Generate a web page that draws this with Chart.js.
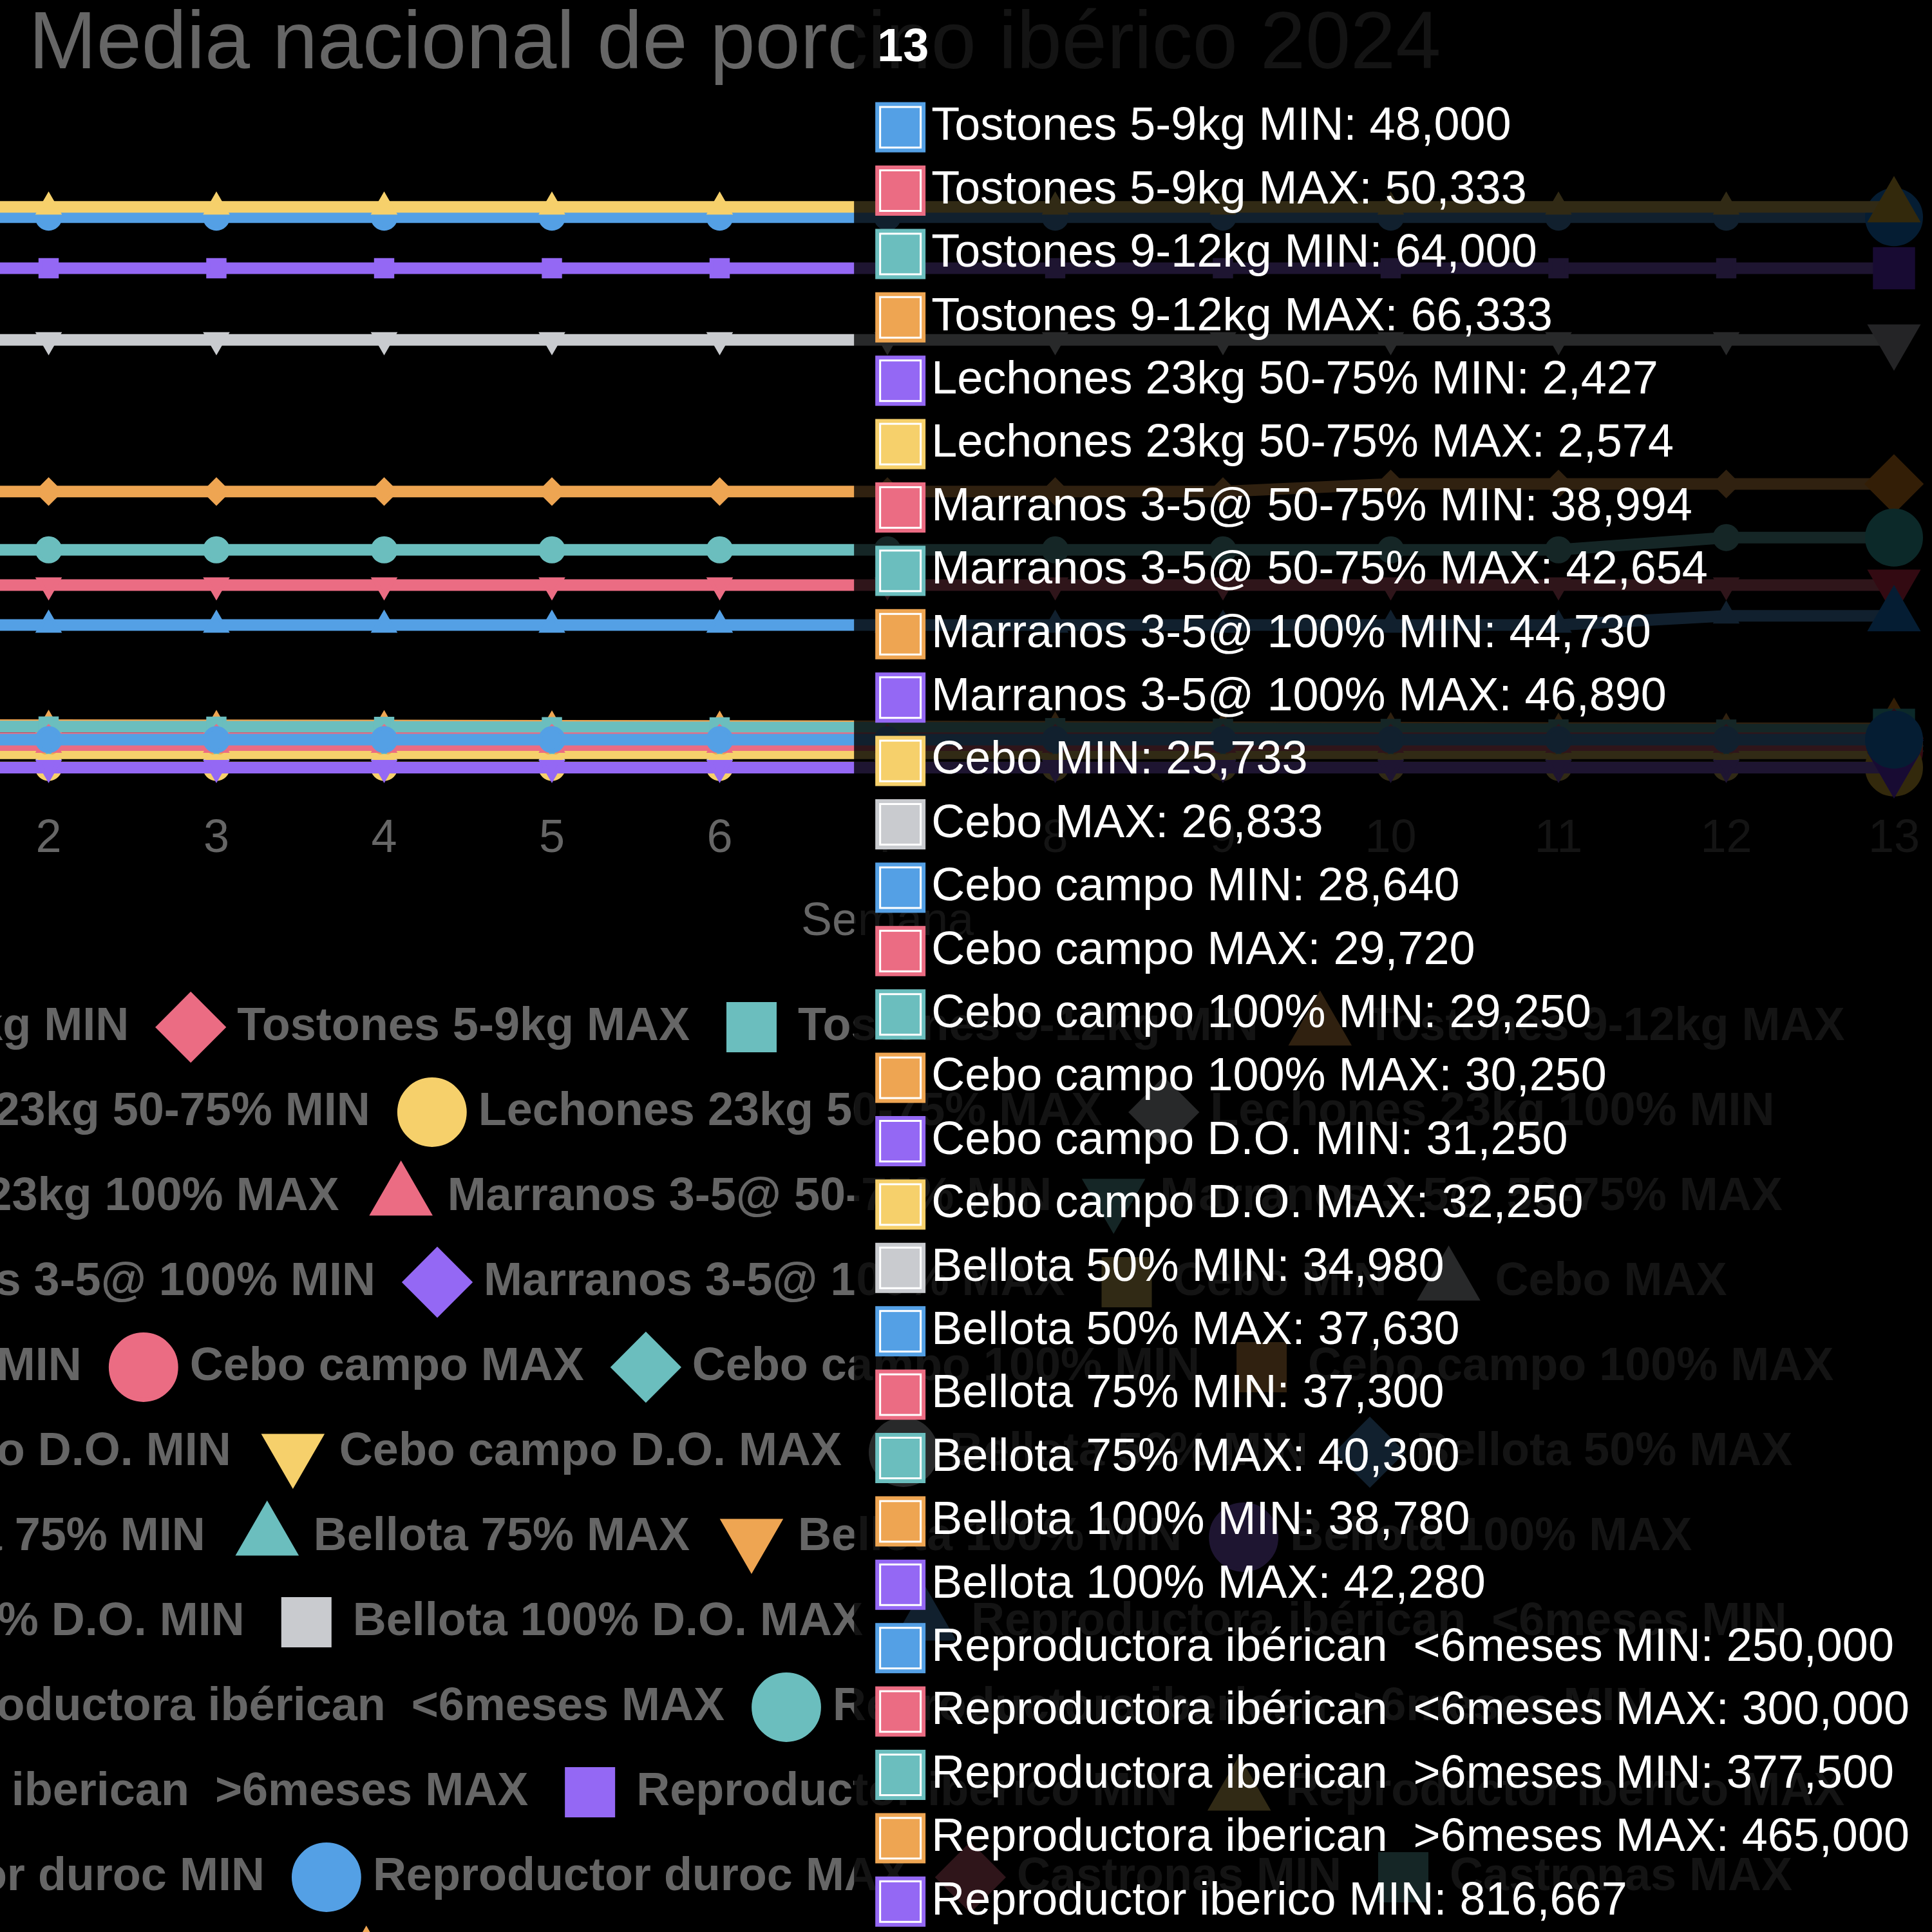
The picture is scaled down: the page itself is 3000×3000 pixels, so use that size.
<!DOCTYPE html>
<html>
<head>
<meta charset="utf-8">
<script src="https://cdn.jsdelivr.net/npm/chart.js"></script>
<style>
  body { margin: 0; background: #000; overflow: hidden; }
</style>
</head>
<body>
<canvas id="myChart" width="610" height="501" style="position:absolute;left:-659px;top:-4px;width:3660px;height:3006px"></canvas>
<script>
const semanas = ['1', '2', '3', '4', '5', '6', '7', '8', '9', '10', '11', '12', '13'];

const nombres = [
    'Tostones 5-9kg MIN', 'Tostones 5-9kg MAX', 'Tostones 9-12kg MIN', 'Tostones 9-12kg MAX',
    'Lechones 23kg 50-75% MIN', 'Lechones 23kg 50-75% MAX', 'Lechones 23kg 100% MIN', 'Lechones 23kg 100% MAX',
    'Marranos 3-5@ 50-75% MIN', 'Marranos 3-5@ 50-75% MAX', 'Marranos 3-5@ 100% MIN', 'Marranos 3-5@ 100% MAX',
    'Cebo MIN', 'Cebo MAX', 'Cebo campo MIN', 'Cebo campo MAX',
    'Cebo campo 100% MIN', 'Cebo campo 100% MAX', 'Cebo campo D.O. MIN', 'Cebo campo D.O. MAX',
    'Bellota 50% MIN', 'Bellota 50% MAX', 'Bellota 75% MIN', 'Bellota 75% MAX',
    'Bellota 100% MIN', 'Bellota 100% MAX', 'Bellota 100% D.O. MIN', 'Bellota 100% D.O. MAX',
    'Reproductora ibérican  <6meses MIN', 'Reproductora ibérican  <6meses MAX',
    'Reproductora iberican  >6meses MIN', 'Reproductora iberican  >6meses MAX',
    'Reproductor iberico MIN', 'Reproductor iberico MAX', 'Reproductor duroc MIN', 'Reproductor duroc MAX',
    'Castronas MIN', 'Castronas MAX', 'Verracos MIN', 'Verracos MAX'
];

const tostones59Min = [48000, 48000, 48000, 48000, 48000, 48000, 48000, 48000, 48000, 48000, 48000, 48000, 48000];
const tostones59Max = [50333, 50333, 50333, 50333, 50333, 50333, 50333, 50333, 50333, 50333, 50333, 50333, 50333];
const tostones912Min = [69667, 69333, 69000, 68667, 68333, 68000, 67333, 66667, 66000, 65333, 64667, 64333, 64000];
const tostones912Max = [72000, 71667, 71333, 71000, 70667, 70333, 69667, 69000, 68333, 67667, 67000, 66667, 66333];
const lechones5075Min = [2427, 2427, 2427, 2427, 2427, 2427, 2427, 2427, 2427, 2427, 2427, 2427, 2427];
const lechones5075Max = [2574, 2574, 2574, 2574, 2574, 2574, 2574, 2574, 2574, 2574, 2574, 2574, 2574];
const lechones100Min = [null, null, null, null, null, null, null, null, null, null, null, null, null];
const lechones100Max = [null, null, null, null, null, null, null, null, null, null, null, null, null];
const marranos5075Min = [38994, 38994, 38994, 38994, 38994, 38994, 38994, 38994, 38994, 38994, 38994, 38994, 38994];
const marranos5075Max = [42654, 42654, 42654, 42654, 42654, 42654, 42654, 42654, 42654, 42654, 42654, 42654, 42654];
const marranos100Min = [44730, 44730, 44730, 44730, 44730, 44730, 44730, 44730, 44730, 44730, 44730, 44730, 44730];
const marranos100Max = [46890, 46890, 46890, 46890, 46890, 46890, 46890, 46890, 46890, 46890, 46890, 46890, 46890];
const ceboMin = [25733, 25733, 25733, 25733, 25733, 25733, 25733, 25733, 25733, 25733, 25733, 25733, 25733];
const ceboMax = [26833, 26833, 26833, 26833, 26833, 26833, 26833, 26833, 26833, 26833, 26833, 26833, 26833];
const ceboCampoMin = [28640, 28640, 28640, 28640, 28640, 28640, 28640, 28640, 28640, 28640, 28640, 28640, 28640];
const ceboCampoMax = [29720, 29720, 29720, 29720, 29720, 29720, 29720, 29720, 29720, 29720, 29720, 29720, 29720];
const ceboCampo100Min = [29250, 29250, 29250, 29250, 29250, 29250, 29250, 29250, 29250, 29250, 29250, 29250, 29250];
const ceboCampo100Max = [30250, 30250, 30250, 30250, 30250, 30250, 30250, 30250, 30250, 30250, 30250, 30250, 30250];
const ceboCampoDOMin = [31250, 31250, 31250, 31250, 31250, 31250, 31250, 31250, 31250, 31250, 31250, 31250, 31250];
const ceboCampoDOMax = [32250, 32250, 32250, 32250, 32250, 32250, 32250, 32250, 32250, 32250, 32250, 32250, 32250];
const bellota50Min = [34980, 34980, 34980, 34980, 34980, 34980, 34980, 34980, 34980, 34980, 34980, 34980, 34980];
const bellota50Max = [37630, 37630, 37630, 37630, 37630, 37630, 37630, 37630, 37630, 37630, 37630, 37630, 37630];
const bellota75Min = [37300, 37300, 37300, 37300, 37300, 37300, 37300, 37300, 37300, 37300, 37300, 37300, 37300];
const bellota75Max = [40300, 40300, 40300, 40300, 40300, 40300, 40300, 40300, 40300, 40300, 40300, 40300, 40300];
const bellota100Min = [38780, 38780, 38780, 38780, 38780, 38780, 38780, 38780, 38780, 38780, 38780, 38780, 38780];
const bellota100Max = [42280, 42280, 42280, 42280, 42280, 42280, 42280, 42280, 42280, 42280, 42280, 42280, 42280];
const bellota100DOMin = [null, null, null, null, null, null, null, null, null, null, null, null, null];
const bellota100DOMax = [null, null, null, null, null, null, null, null, null, null, null, null, null];
const reproductoraMenos6Min = [235000, 235000, 235000, 235000, 235000, 235000, 235000, 235000, 235000, 235000, 235000, 250000, 250000];
const reproductoraMenos6Max = [300000, 300000, 300000, 300000, 300000, 300000, 300000, 300000, 300000, 300000, 300000, 300000, 300000];
const reproductoraMas6Min = [357500, 357500, 357500, 357500, 357500, 357500, 357500, 357500, 357500, 357500, 357500, 377500, 377500];
const reproductoraMas6Max = [452500, 452500, 452500, 452500, 452500, 452500, 452500, 452500, 452500, 465000, 465000, 465000, 465000];
const reproductorIbericoMin = [816667, 816667, 816667, 816667, 816667, 816667, 816667, 816667, 816667, 816667, 816667, 816667, 816667];
const reproductorIbericoMax = [916667, 916667, 916667, 916667, 916667, 916667, 916667, 916667, 916667, 916667, 916667, 916667, 916667];
const reproductorDurocMin = [700000, 700000, 700000, 700000, 700000, 700000, 700000, 700000, 700000, 700000, 700000, 700000, 700000];
const reproductorDurocMax = [900000, 900000, 900000, 900000, 900000, 900000, 900000, 900000, 900000, 900000, 900000, 900000, 900000];
const castronasMin = [null, null, null, null, null, null, null, null, null, null, null, null, null];
const castronasMax = [null, null, null, null, null, null, null, null, null, null, null, null, null];
const verracosMin = [null, null, null, null, null, null, null, null, null, null, null, null, null];
const verracosMax = [null, null, null, null, null, null, null, null, null, null, null, null, null];

const series = [
    tostones59Min, tostones59Max, tostones912Min, tostones912Max,
    lechones5075Min, lechones5075Max, lechones100Min, lechones100Max,
    marranos5075Min, marranos5075Max, marranos100Min, marranos100Max,
    ceboMin, ceboMax, ceboCampoMin, ceboCampoMax,
    ceboCampo100Min, ceboCampo100Max, ceboCampoDOMin, ceboCampoDOMax,
    bellota50Min, bellota50Max, bellota75Min, bellota75Max,
    bellota100Min, bellota100Max, bellota100DOMin, bellota100DOMax,
    reproductoraMenos6Min, reproductoraMenos6Max, reproductoraMas6Min, reproductoraMas6Max,
    reproductorIbericoMin, reproductorIbericoMax, reproductorDurocMin, reproductorDurocMax,
    castronasMin, castronasMax, verracosMin, verracosMax
];

const colores = [
    'rgb(84, 160, 229)',
    'rgb(235, 108, 131)',
    'rgb(107, 190, 190)',
    'rgb(238, 165, 82)',
    'rgb(148, 104, 244)',
    'rgb(246, 208, 107)',
    'rgb(201, 203, 207)'
];
const estilos = ['circle', 'rectRot', 'rect', 'triangle', 'triangle'];
const giros = [0, 0, 0, 0, 180];

Chart.defaults.font.family = "'Liberation Sans', Arial, sans-serif";
Chart.defaults.color = '#666';

let datasets = nombres.map((nombre, i) => ({
    label: nombre,
    data: series[i],
    borderColor: colores[i % 7],
    backgroundColor: colores[i % 7],
    pointStyle: estilos[i % 5],
    pointRotation: giros[i % 5],
    pointRadius: 3,
    pointBorderWidth: 1,
    pointHoverRadius: 7,
    pointHoverBorderWidth: 1,
    borderWidth: 3
}));

let ctx = document.getElementById('myChart');

// canvas drawn at 6x: the capture is a zoomed crop, y axis falls off the left edge
let chart = new Chart(ctx, {
    type: 'line',
    data: {
        labels: semanas,
        datasets: datasets
    },
    options: {
        responsive: false,
        devicePixelRatio: 6,
        animation: false,
        layout: {
            padding: { right: 10 }
        },
        interaction: {
            mode: 'index',
            intersect: false
        },
        plugins: {
            title: {
                display: true,
                text: 'Media nacional de porcino ibérico 2024',
                font: { size: 21, weight: 'normal' },
                padding: { top: 0, bottom: 15.8 }
            },
            legend: {
                position: 'bottom',
                labels: {
                    usePointStyle: true,
                    font: { weight: 'bold' }
                }
            }
        },
        scales: {
            x: {
                title: {
                    display: true,
                    text: 'Semana'
                }
            },
            y: {
                afterFit: (scale) => { scale.width = 79; }
            }
        }
    }
});

// semana 13 activa, como en la captura
const idx = 12;
let activos = [];
chart.data.datasets.forEach((ds, i) => {
    if (ds.data[idx] !== null) activos.push({ datasetIndex: i, index: idx });
});
try {
    chart.setActiveElements(activos);
    chart.tooltip.setActiveElements(activos, { x: chart.chartArea.right, y: chart.chartArea.top });
    chart.update();
} catch (e) {
    console.log(e);
}
</script>
</body>
</html>
